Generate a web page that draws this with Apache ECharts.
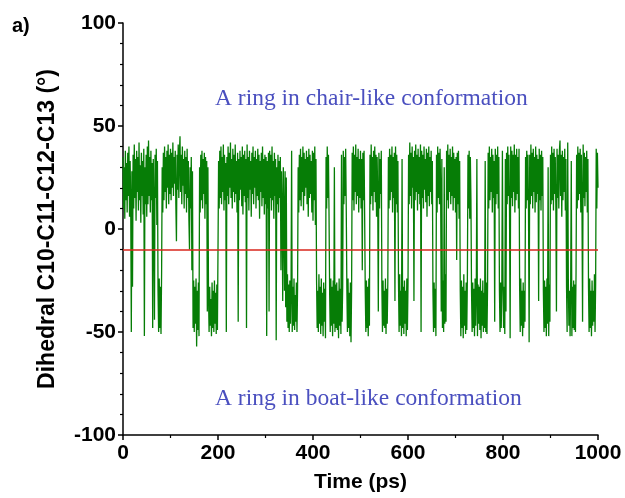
<!DOCTYPE html>
<html>
<head>
<meta charset="utf-8">
<script src="https://cdn.jsdelivr.net/npm/echarts@6/dist/echarts.min.js"></script>
<style>
  html, body { margin: 0; padding: 0; background: #fff; }
  #main { width: 625px; height: 498px; }
</style>
</head>
<body>
<div id="main"></div>
<script>
// dihedral angle (deg), one value every 1.25 ps (40 per row = 50 ps)
var timeStep = 1.25;
var dihedral = [
  35,10,30,5,38,14,32,8,37,16,40,6,33,12,-50,28,-28,36,10,41,15,34,4,38,18,35,9,42,14,31,3,37,16,33,7,39,-52,30,12,36,
  6,40,12,43,16,35,8,38,14,32,-48,34,10,-44,36,15,39,2,33,-30,-50,-24,-48,-28,-51,-22,30,8,37,14,40,18,35,10,38,20,41,12,36,17,
  39,14,37,20,42,16,35,22,38,12,-6,36,19,41,15,37,45,18,36,12,40,21,34,10,38,17,35,8,39,15,33,5,-10,30,10,35,-20,28,-48,-25,
  -50,-28,-46,-24,-57,-30,-49,-26,-52,30,8,36,14,38,10,34,17,37,5,35,12,33,-40,30,-32,-50,-28,-47,-34,-52,-26,-48,-30,-50,-25,-46,-31,-51,-27,-49,
  -10,33,10,38,15,40,12,35,18,41,9,36,14,32,-50,35,16,40,12,37,20,42,15,34,10,39,18,36,13,41,17,33,8,37,-45,34,14,38,19,35,
  11,40,7,36,16,38,13,34,-48,41,15,35,9,38,19,33,6,37,17,40,12,35,20,38,10,34,16,39,14,36,5,33,18,37,11,40,15,34,7,36,
  12,35,-52,33,10,37,-40,38,15,36,9,40,14,33,5,37,16,34,-54,30,12,36,8,33,15,35,-20,28,10,-35,30,5,-30,28,-38,25,-45,-22,-48,-27,
  -50,-25,-46,-30,38,-50,-28,-47,-24,-49,-32,-45,-26,-50,-29,30,8,36,14,39,11,35,18,40,9,37,16,34,20,38,12,35,6,39,15,36,17,33,8,38,
  4,37,14,40,2,34,-25,-48,-30,-50,-22,-46,-28,-51,-24,-47,-31,-52,-26,-45,-29,-53,35,10,40,15,36,7,-30,-50,-24,-47,-28,-52,-25,-46,30,-50,-27,-48,
  -26,-49,-30,-53,-24,-47,-29,-51,36,-45,-28,38,12,35,16,39,10,-28,-50,-24,-48,-31,-52,-26,-55,-30,37,14,40,9,36,18,41,12,35,16,39,8,34,15,
  38,10,34,-20,37,14,38,6,-30,-50,-25,-48,-28,-52,-24,-47,36,12,41,16,35,9,38,18,40,13,36,6,35,15,-40,37,10,34,17,38,-28,-50,-25,-47,
  -30,-48,-24,-51,-29,-46,-26,35,10,39,14,36,18,40,8,35,15,37,-35,40,12,36,8,33,-26,-50,-22,-47,-30,-52,34,-48,-28,-51,-25,-46,-30,-52,-24,-49,
  -27,36,12,42,16,37,10,40,20,35,-35,38,14,41,18,36,9,39,17,35,12,41,-50,38,15,36,10,40,19,34,13,39,6,37,16,40,11,35,18,38,
  12,33,-30,-50,-26,-48,-29,-52,36,8,40,15,37,12,39,17,-40,34,-48,-25,-50,30,-46,-22,-45,38,14,41,10,36,18,39,12,35,16,40,9,37,15,34,
  8,35,-15,37,12,38,5,33,-30,-52,-25,-48,-28,-53,-22,-47,-30,-51,-26,-49,-24,36,10,38,5,35,14,-30,-50,-26,-48,-29,-52,-24,-47,-31,34,-52,-27,-46,
  -28,-49,-24,-53,-30,-47,-25,-50,-31,-48,33,-50,-26,-51,-28,37,10,40,14,35,18,39,8,36,15,33,-45,39,12,36,17,40,10,35,-30,-50,-26,-48,-29,38,
  -25,-48,-28,-51,34,-40,37,12,40,16,36,9,-53,40,15,38,11,36,18,41,8,36,14,39,17,35,10,39,-28,-50,-24,-47,-30,-52,-26,-48,-30,-45,35,10,
  38,14,36,8,-55,36,12,41,16,37,10,39,18,35,8,40,13,36,17,34,-35,39,14,36,9,38,16,35,-30,-50,-25,-48,-28,-52,-24,-46,30,-52,-27,-45,
  36,12,40,14,37,9,39,17,35,11,-40,39,15,36,10,38,43,16,36,6,38,14,35,18,39,9,34,-28,-50,42,-24,-47,-30,-52,-26,33,-52,-28,-48,-25,
  -49,-27,-50,-22,36,10,40,14,37,17,39,8,36,12,-45,41,15,37,11,35,18,38,8,34,-28,-50,-24,-48,-30,-52,-25,-47,-30,-45,-22,-50,-27,39,10,37,
  20
];
var boundary = -10;
var xTicks = [0, 200, 400, 600, 800, 1000];
var yTicks = [-100, -50, 0, 50, 100];

var seriesData = dihedral.map(function (v, i) { return [i * timeStep, v]; });

var chart = echarts.init(document.getElementById('main'));
var labelFont = '"Liberation Sans", Arial, sans-serif';
var option = {
  backgroundColor: '#fff',
  animation: false,
  grid: { left: 123, right: 27, top: 23, bottom: 61 },
  xAxis: {
    type: 'value',
    min: xTicks[0],
    max: xTicks[xTicks.length - 1],
    interval: 200,
    name: 'Time (ps)',
    nameLocation: 'middle',
    nameGap: 37,
    nameTextStyle: { fontFamily: labelFont, fontWeight: 'bold', fontSize: 21, color: '#000' },
    axisLine: { onZero: false, lineStyle: { color: '#000', width: 1.5 } },
    axisTick: { inside: false, length: 5, lineStyle: { color: '#000', width: 1.5 } },
    minorTick: { show: true, splitNumber: 2, length: 3, lineStyle: { color: '#000', width: 1.2 } },
    splitLine: { show: false },
    axisLabel: {
      fontFamily: labelFont, fontWeight: 'bold', fontSize: 21, color: '#000', margin: 8,
      formatter: function (v) { return String(v); }
    }
  },
  yAxis: {
    type: 'value',
    min: yTicks[0],
    max: yTicks[yTicks.length - 1],
    interval: 50,
    name: 'Dihedral C10-C11-C12-C13 (°)',
    nameLocation: 'middle',
    nameGap: 64,
    nameTextStyle: { fontFamily: labelFont, fontWeight: 'bold', fontSize: 23, color: '#000' },
    axisLine: { show: true, onZero: false, lineStyle: { color: '#000', width: 1.5 } },
    axisTick: { show: true, inside: false, length: 5, lineStyle: { color: '#000', width: 1.5 } },
    minorTick: { show: true, splitNumber: 5, length: 3, lineStyle: { color: '#000', width: 1.2 } },
    splitLine: { show: false },
    axisLabel: {
      fontFamily: labelFont, fontWeight: 'bold', fontSize: 21, color: '#000', margin: 7,
      formatter: function (v) { return String(v); }
    }
  },
  graphic: [
    { type: 'text', left: 12, top: 16,
      style: { text: 'a)', font: 'bold 20px "Liberation Sans", Arial, sans-serif', fill: '#000' } },
    { type: 'text', left: 215, top: 87,
      style: { text: 'A ring in chair-like conformation', font: '23.5px "Liberation Serif", "Times New Roman", serif', fill: '#4a4fbf' } },
    { type: 'text', left: 215, top: 387,
      style: { text: 'A ring in boat-like conformation', font: '23.5px "Liberation Serif", "Times New Roman", serif', fill: '#4a4fbf' } }
  ],
  series: [
    {
      type: 'line',
      data: seriesData,
      showSymbol: false,
      sampling: null,
      lineStyle: { color: '#067d06', width: 1.3 },
      z: 2,
      markLine: {
        silent: true,
        symbol: 'none',
        label: { show: false },
        lineStyle: { color: '#d9261c', width: 1.5, type: 'solid' },
        data: [{ yAxis: boundary }]
      }
    }
  ]
};
chart.setOption(option);
</script>
</body>
</html>
